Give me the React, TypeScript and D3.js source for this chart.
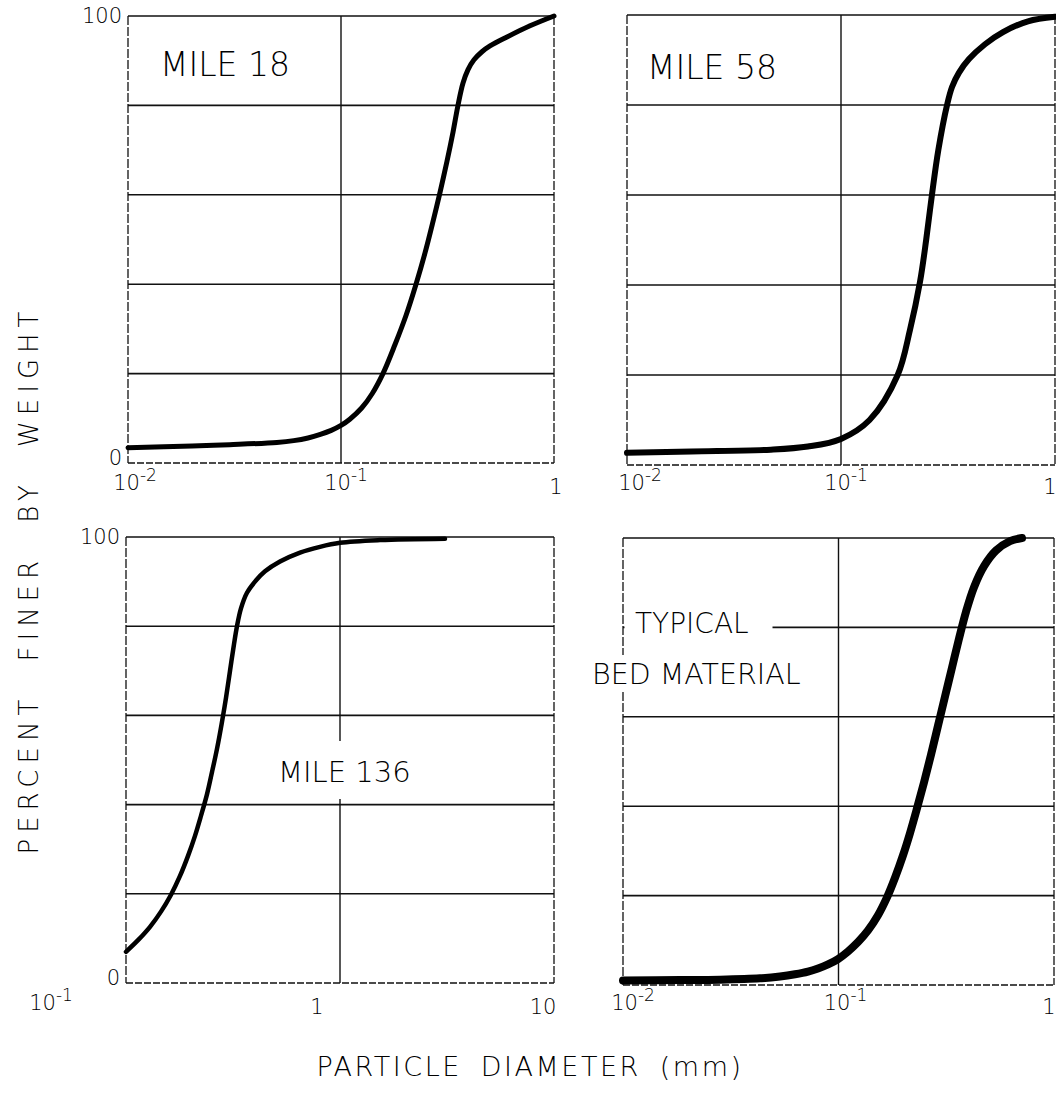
import React, { Component } from 'react';
import * as d3 from 'd3';

// Grain size curves, percent finer by weight against particle diameter (mm)
const mile18 = [
  [0.01, 3.4], [0.02, 3.8], [0.03, 4.1], [0.05, 4.6], [0.06, 5.0], [0.07, 5.6],
  [0.08, 6.4], [0.09, 7.3], [0.1, 8.4], [0.11, 9.8], [0.125, 12.3], [0.14, 15.5],
  [0.1574, 20], [0.1793, 26.5], [0.2019, 33], [0.225, 40], [0.248, 47], [0.2703, 54],
  [0.2915, 60.5], [0.3145, 67.5], [0.3356, 74], [0.3541, 80], [0.374, 85], [0.3948, 88],
  [0.4211, 90.2], [0.459, 92], [0.5007, 93.3], [0.6016, 95.3], [0.7716, 97.8], [1, 100]
];
const mile58 = [
  [0.01, 2.7], [0.02, 3], [0.047, 3.4], [0.07, 4.1], [0.1, 5.8], [0.136, 10],
  [0.184, 20], [0.21, 30], [0.234, 40.7], [0.25, 50], [0.266, 60], [0.285, 70],
  [0.313, 80], [0.3302, 84], [0.356, 87.2], [0.3964, 90.2], [0.4709, 93.5],
  [0.5715, 96.2], [0.7478, 98.6], [1, 99.6]
];
const mile136 = [
  [0.1, 7], [0.1138, 9.6], [0.1295, 12.6], [0.1457, 16], [0.1623, 19.8], [0.1788, 24],
  [0.1949, 28.5], [0.2101, 33], [0.2241, 37.5], [0.239, 42.3], [0.2523, 47.3],
  [0.2662, 52.5], [0.2796, 58], [0.2934, 64], [0.3062, 70], [0.3197, 76], [0.3301, 80],
  [0.3446, 84], [0.3676, 87.5], [0.4006, 90], [0.4463, 92.3], [0.5244, 94.5],
  [0.6504, 96.5], [0.8064, 97.8], [1, 98.7], [1.538, 99.3], [3.095, 99.6]
];
const typicalBed = [
  [0.01, 1], [0.01839, 1.1], [0.02819, 1.2], [0.04322, 1.5], [0.05354, 1.9],
  [0.06282, 2.4], [0.07219, 3.0], [0.08033, 3.7], [0.08939, 4.6], [0.09947, 5.8],
  [0.1107, 7.5], [0.1232, 9.6], [0.1371, 12.2], [0.1525, 15.6], [0.1679, 19.6],
  [0.1829, 24], [0.1992, 29], [0.2147, 34], [0.2313, 39.5], [0.2493, 45.3],
  [0.2687, 51.5], [0.2895, 58], [0.312, 64.5], [0.3363, 71], [0.3624, 77.5],
  [0.3905, 83.5], [0.4254, 89], [0.4735, 93.7], [0.5382, 97.2], [0.6249, 99.3], [0.7104, 100]
];

const series = [mile18, mile58, mile136, typicalBed];
const xDomains = [[0.01, 1], [0.01, 1], [0.1, 10], [0.01, 1]];
const gridPercents = [0, 20, 40, 60, 80, 100];

// tick labels drawn under each panel (base + exponent)
const xTickLabels = [
  [{ v: 0.01, t: '10', e: '-2' }, { v: 0.1, t: '10', e: '-1' }, { v: 1, t: '1', e: '' }],
  [{ v: 0.01, t: '10', e: '-2' }, { v: 0.1, t: '10', e: '-1' }, { v: 1, t: '1', e: '' }],
  [{ v: 0.1, t: '10', e: '-1' }, { v: 1, t: '1', e: '' }, { v: 10, t: '10', e: '' }],
  [{ v: 0.01, t: '10', e: '-2' }, { v: 0.1, t: '10', e: '-1' }, { v: 1, t: '1', e: '' }]
];
const yTickLabels = [['0', '100'], [], ['0', '100'], []];

const xTitle = 'PARTICLE DIAMETER (mm)';
const yTitle = 'PERCENT FINER BY WEIGHT';

const FONT = '"DejaVu Sans", sans-serif';

// where each panel sits on the sheet, and the hand offsets of its labels
const layout = [
  { x0: 128, x1: 554, y0: 16, y1: 463, stroke: 5, tickDx: [7, 5, 2], tickY: 490 },
  { x0: 627, x1: 1055, y0: 15, y1: 465, stroke: 6, tickDx: [13, 5, -5], tickY: 490 },
  { x0: 126, x1: 554, y0: 537, y1: 983, stroke: 4.5, tickDx: [-75, -23, -11], tickY: 1010 },
  { x0: 623, x1: 1054, y0: 538, y1: 985, stroke: 8, tickDx: [10, 7, -5], tickY: 1010 }
];

class App extends Component {
  chartRef: React.RefObject<SVGSVGElement | null>;

  constructor(props) {
    super(props);
    this.chartRef = React.createRef();
  }

  componentDidMount() {
    this.renderChart();
  }

  renderChart() {
    const svg = d3.select(this.chartRef.current);
    svg.selectAll('*').remove();

    svg.append('rect').attr('width', 1056).attr('height', 1100).attr('fill', '#fff');

    layout.forEach((p, i) => {
      const x = d3.scaleLog().domain(xDomains[i]).range([p.x0, p.x1]);
      const y = d3.scaleLinear().domain([0, 100]).range([p.y1, p.y0]);
      const g = svg.append('g');

      // decades only
      const decades = x.ticks().filter(v => Math.abs(Math.log10(v) - Math.round(Math.log10(v))) < 1e-6);

      // inner horizontal grid
      g.selectAll('.hgrid')
        .data(gridPercents.slice(1, -1))
        .enter().append('line')
        .attr('x1', p.x0).attr('x2', p.x1)
        .attr('y1', d => y(d)).attr('y2', d => y(d))
        .attr('stroke', '#111').attr('stroke-width', 1.6);

      // inner vertical grid
      g.selectAll('.vgrid')
        .data(decades.slice(1, -1))
        .enter().append('line')
        .attr('x1', d => x(d)).attr('x2', d => x(d))
        .attr('y1', p.y0).attr('y2', p.y1)
        .attr('stroke', '#111').attr('stroke-width', 1.4);

      // frame: top solid, other sides look dashed on the copy
      g.append('line').attr('x1', p.x0).attr('x2', p.x1).attr('y1', p.y0).attr('y2', p.y0)
        .attr('stroke', '#111').attr('stroke-width', 1.6);
      g.append('line').attr('x1', p.x0).attr('x2', p.x1).attr('y1', p.y1).attr('y2', p.y1)
        .attr('stroke', '#111').attr('stroke-width', 1.4).attr('stroke-dasharray', '7 2');
      g.append('line').attr('x1', p.x0).attr('x2', p.x0).attr('y1', p.y0).attr('y2', p.y1)
        .attr('stroke', '#111').attr('stroke-width', 1.3).attr('stroke-dasharray', '9 2');
      g.append('line').attr('x1', p.x1).attr('x2', p.x1).attr('y1', p.y0).attr('y2', p.y1)
        .attr('stroke', '#111').attr('stroke-width', 1.3).attr('stroke-dasharray', '9 2');

      const line = d3.line()
        .x(d => x(d[0]))
        .y(d => y(d[1]))
        .curve(d3.curveCatmullRom.alpha(0.5));

      g.append('path')
        .datum(series[i])
        .attr('d', line)
        .attr('fill', 'none')
        .attr('stroke', '#000')
        .attr('stroke-width', p.stroke)
        .attr('stroke-linecap', 'round');

      // x tick labels
      xTickLabels[i].forEach((tk, k) => {
        const t = g.append('text')
          .attr('x', x(tk.v) + p.tickDx[k])
          .attr('y', p.tickY + (tk.e ? 0 : 4))
          .attr('text-anchor', 'middle')
          .style('font-family', FONT)
          .style('font-size', '21px')
          .style('font-weight', 300)
          .text(tk.t);
        if (tk.e) {
          t.append('tspan')
            .attr('dy', '-0.55em')
            .style('font-size', '17px')
            .text(tk.e);
        }
      });

      // y tick labels
      yTickLabels[i].forEach((lab, k) => {
        const v = k === 0 ? 0 : 100;
        g.append('text')
          .attr('x', p.x0 - 6)
          .attr('y', y(v) + (k === 0 ? 2 : 7))
          .attr('text-anchor', 'end')
          .style('font-family', FONT)
          .style('font-size', '21px')
          .style('font-weight', 300)
          .text(lab);
      });
    });

    // panel names
    const name = (txt, x, yy, size) =>
      svg.append('text')
        .attr('x', x).attr('y', yy)
        .style('font-family', FONT)
        .style('font-size', size + 'px')
        .style('font-weight', 300)
        .text(txt);

    name('MILE 18', 160, 76, 33);
    name('MILE 58', 647, 79, 33);

    // gaps the hand lettering leaves in the grid
    svg.append('rect').attr('x', 272).attr('y', 741).attr('width', 150).attr('height', 58).attr('fill', '#fff');
    svg.append('rect').attr('x', 624.5).attr('y', 620).attr('width', 148).attr('height', 15).attr('fill', '#fff');
    svg.append('rect').attr('x', 588).attr('y', 655).attr('width', 234).attr('height', 36).attr('fill', '#fff');

    name('MILE 136', 278, 782, 29);
    name('TYPICAL', 635, 633, 28);
    name('BED MATERIAL', 592, 684, 28.5);

    // shared axis titles
    svg.append('text')
      .attr('x', 530).attr('y', 1076)
      .attr('text-anchor', 'middle')
      .style('font-family', FONT)
      .style('font-size', '27px')
      .style('font-weight', 300)
      .style('letter-spacing', '2.5px')
      .style('word-spacing', '8px')
      .text(xTitle);

    svg.append('text')
      .attr('transform', 'translate(38,580) rotate(-90)')
      .attr('text-anchor', 'middle')
      .style('font-family', FONT)
      .style('font-size', '26px')
      .style('font-weight', 300)
      .style('letter-spacing', '6px')
      .style('word-spacing', '18px')
      .text(yTitle);
  }

  render() {
    return (
      <svg
        ref={this.chartRef}
        width={1056}
        height={1100}
        style={{ position: 'absolute', left: 0, top: 0, background: '#fff' }}
      />
    );
  }
}

export default App;
